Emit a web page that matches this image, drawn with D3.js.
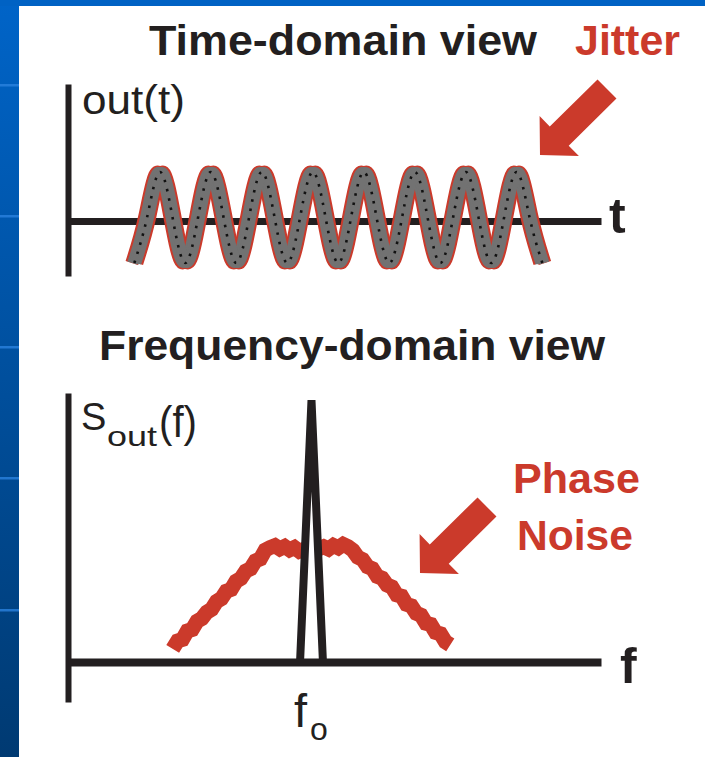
<!DOCTYPE html>
<html>
<head>
<meta charset="utf-8">
<script src="https://cdn.jsdelivr.net/npm/d3@7/dist/d3.min.js"></script>
<style>
  html, body { margin: 0; padding: 0; background: #ffffff; }
  svg { display: block; }
  text { font-family: "Liberation Sans", Arial, Helvetica, sans-serif; }
</style>
</head>
<body>
<svg id="chart" width="705" height="757"></svg>
<script>
// ---------- data ----------
// time-domain waveform: quarter-period control points (time in periods, normalized level)
const waveTimes = [0, 0.25, 0.5, 0.75, 1, 1.25, 1.5, 1.75, 2, 2.25, 2.5, 2.75, 3, 3.25, 3.5, 3.75,
                   4, 4.25, 4.5, 4.75, 5, 5.25, 5.5, 5.75, 6, 6.25, 6.5, 6.75, 7, 7.25, 7.5, 7.75, 8];
const waveLevels = [-1, 0, 1, 0, -1, 0, 1, 0, -1, 0, 1, 0, -1, 0, 1, 0,
                    -1, 0, 1, 0, -1, 0, 1, 0, -1, 0, 1, 0, -1, 0, 1, 0, -1];
// jitter: timing offsets (periods) of the overlaid traces
const jitterOuter = [-0.05, 0.05];
const jitterInner = [-0.04, 0, 0.04];

// frequency-domain: phase-noise skirt (offset from f0, normalized PSD)
const noiseFreq = [-2.85, -2.75, -2.65, -2.55, -2.45, -2.35, -2.25, -2.15, -2.05, -1.95,
                   -1.85, -1.75, -1.65, -1.55, -1.45, -1.35, -1.25, -1.15, -1.05, -0.95,
                   -0.85, -0.75, -0.65, -0.55, -0.45, -0.35, -0.25, -0.15, -0.05, 0.05,
                    0.15, 0.25, 0.35, 0.45, 0.55, 0.65, 0.75, 0.85, 0.95, 1.05,
                    1.15, 1.25, 1.35, 1.45, 1.55, 1.65, 1.75, 1.85, 1.95, 2.05,
                    2.15, 2.25, 2.35, 2.45, 2.55, 2.65, 2.75, 2.85];
const noiseLevel = [0.05, 0.08, 0.086, 0.118, 0.124, 0.155, 0.166, 0.19, 0.201, 0.231,
                    0.242, 0.27, 0.277, 0.308, 0.319, 0.347, 0.356, 0.386, 0.394, 0.427,
                    0.437, 0.444, 0.432, 0.441, 0.428, 0.437, 0.423, 0.43, 0.42, 0.428,
                    0.432, 0.44, 0.431, 0.445, 0.436, 0.449, 0.44, 0.426, 0.40, 0.391,
                    0.364, 0.356, 0.327, 0.32, 0.294, 0.286, 0.256, 0.251, 0.22, 0.214,
                    0.186, 0.178, 0.148, 0.143, 0.113, 0.107, 0.077, 0.065];
// carrier spike at f0
const spikeFreq = [-0.235, 0, 0.235];
const spikeLevel = [0, 1, 0];

// labels
const titleTop = "Time-domain view";
const titleBottom = "Frequency-domain view";
const labelJitter = "Jitter";
const labelPhase = ["Phase", "Noise"];

// ---------- styles ----------
const INK = "#231f20";
const RED = "#cb3a2b";
const GRAY = "#727272";

const svg = d3.select("#chart");

// ---------- background frame ----------
const defs = svg.append("defs");
const grad = defs.append("linearGradient").attr("id", "strip")
  .attr("x1", 0).attr("y1", 0).attr("x2", 0).attr("y2", 1);
grad.append("stop").attr("offset", "0%").attr("stop-color", "#0064c8");
grad.append("stop").attr("offset", "100%").attr("stop-color", "#003a72");
svg.append("rect").attr("x", 0).attr("y", 0).attr("width", 19).attr("height", 757).attr("fill", "url(#strip)");
svg.append("rect").attr("x", 0).attr("y", 0).attr("width", 705).attr("height", 6).attr("fill", "#0062c4");
[85, 216, 347, 478, 610].forEach(y => {
  svg.append("rect").attr("x", 0).attr("y", y - 1).attr("width", 19).attr("height", 2.5)
    .attr("fill", "#2a82de").attr("opacity", 0.8);
});

// ---------- helpers ----------
function label(txt, x, y, size, weight, color, len) {
  const t = svg.append("text").attr("x", x).attr("y", y)
    .attr("font-size", size).attr("font-weight", weight).attr("fill", color)
    .text(txt);
  if (len) t.attr("textLength", len).attr("lengthAdjust", "spacingAndGlyphs");
  return t;
}
function arrow(tip, tail) {
  const dx = tail[0] - tip[0], dy = tail[1] - tip[1];
  const L = Math.hypot(dx, dy);
  const u = [dx / L, dy / L], n = [-u[1], u[0]];
  const headL = 27, headW = 28, shaftW = 13.5;
  const b = [tip[0] + u[0] * headL, tip[1] + u[1] * headL];
  const pts = [
    tip,
    [b[0] + n[0] * headW, b[1] + n[1] * headW],
    [b[0] + n[0] * shaftW, b[1] + n[1] * shaftW],
    [tail[0] + n[0] * shaftW, tail[1] + n[1] * shaftW],
    [tail[0] - n[0] * shaftW, tail[1] - n[1] * shaftW],
    [b[0] - n[0] * shaftW, b[1] - n[1] * shaftW],
    [b[0] - n[0] * headW, b[1] - n[1] * headW]
  ];
  svg.append("path").attr("d", "M" + pts.map(p => p.join(",")).join("L") + "Z").attr("fill", RED);
}
function styleAxis(g, w) {
  g.select(".domain").attr("stroke", INK).attr("stroke-width", w).attr("fill", "none");
  g.selectAll(".tick").remove();
}

// ---------- time-domain panel ----------
const xT = d3.scaleLinear().domain([-1.3, 9.15]).range([68, 601]);
const yT = d3.scaleLinear().domain([-1.286, 2.934]).range([276, 84]);

const gTop = svg.append("g");
gTop.append("g").attr("transform", `translate(${xT.range()[0]},0)`)
  .call(d3.axisLeft(yT).tickValues([]).tickSizeOuter(0))
  .call(g => styleAxis(g, 6));
gTop.append("g").attr("transform", `translate(0,${yT(-0.077)})`)
  .call(d3.axisBottom(xT).tickValues([]).tickSizeOuter(0))
  .call(g => styleAxis(g, 7));

const waveData = waveTimes.map((t, i) => ({ t, v: waveLevels[i] }));
const waveLine = off => d3.line().x(d => xT(d.t + off)).y(d => yT(d.v)).curve(d3.curveNatural)(waveData);

jitterOuter.forEach(off => {
  gTop.append("path").attr("d", waveLine(off)).attr("fill", "none")
    .attr("stroke", RED).attr("stroke-width", 13).attr("stroke-linecap", "butt");
});
jitterInner.forEach(off => {
  gTop.append("path").attr("d", waveLine(off)).attr("fill", "none")
    .attr("stroke", GRAY).attr("stroke-width", 10).attr("stroke-linecap", "butt");
});
gTop.append("path").attr("d", waveLine(0)).attr("fill", "none")
  .attr("stroke", "#111").attr("stroke-width", 2.6).attr("stroke-dasharray", "2.5,7");

label(titleTop, 149, 55, 42, "bold", INK, 388);
label(labelJitter, 575, 55, 42, "bold", RED, 105);
label("out(t)", 82, 114, 40, "normal", INK, 103);
label("t", 609, 233, 50, "bold", INK);
arrow([540, 155], [607, 89]);

// ---------- frequency-domain panel ----------
const xF = d3.scaleLinear().domain([-5, 5.945]).range([68, 601]);
const yF = d3.scaleLinear().domain([-0.153, 1.027]).range([702, 393]);

const gBot = svg.append("g");
gBot.append("g").attr("transform", `translate(${xF.range()[0]},0)`)
  .call(d3.axisLeft(yF).tickValues([]).tickSizeOuter(0))
  .call(g => styleAxis(g, 6));

const noiseData = noiseFreq.map((f, i) => ({ f, v: noiseLevel[i] }));
gBot.append("path")
  .attr("d", d3.line().x(d => xF(d.f)).y(d => yF(d.v)).curve(d3.curveLinear)(noiseData))
  .attr("fill", "none").attr("stroke", RED).attr("stroke-width", 15)
  .attr("stroke-linejoin", "miter").attr("stroke-miterlimit", 3).attr("stroke-linecap", "butt");

const spikeData = spikeFreq.map((f, i) => ({ f, v: spikeLevel[i] }));
gBot.append("path")
  .attr("d", d3.line().x(d => xF(d.f)).y(d => yF(d.v))(spikeData))
  .attr("fill", "#ffffff").attr("stroke", INK).attr("stroke-width", 8)
  .attr("stroke-linejoin", "bevel");

gBot.append("g").attr("transform", `translate(0,${yF(0)})`)
  .call(d3.axisBottom(xF).tickValues([]).tickSizeOuter(0))
  .call(g => styleAxis(g, 8));

label(titleBottom, 99, 360, 42, "bold", INK, 506);
label("S", 81, 430, 38, "normal", INK);
label("out", 107, 446, 28, "normal", INK, 50);
label("(f)", 159, 437, 45, "normal", INK, 38);
label(labelPhase[0], 513, 493, 42, "bold", RED, 127);
label(labelPhase[1], 517, 550, 42, "bold", RED, 116);
label("f", 620, 683, 50, "bold", INK);
label("f", 294, 727, 47, "normal", INK);
label("o", 310, 740, 32, "normal", INK);
arrow([420, 573], [487, 507]);
</script>
</body>
</html>
